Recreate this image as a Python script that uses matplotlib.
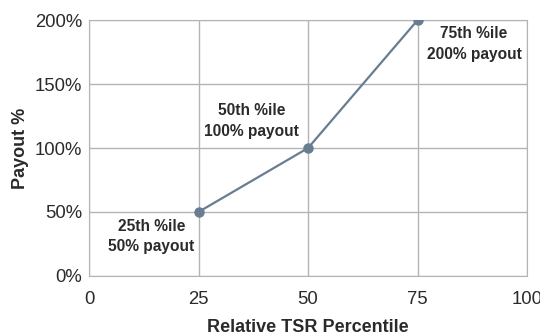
import matplotlib.pyplot as plt
from matplotlib.ticker import FuncFormatter

plt.rcParams['font.family'] = ['Liberation Sans', 'DejaVu Sans']

percentile = [25, 50, 75]
payout = [50, 100, 200]
labels = ["25th %ile\n50% payout", "50th %ile\n100% payout", "75th %ile\n200% payout"]
label_pos = [(14.2, 31), (37.1, 121), (87.9, 181.5)]

line_col = "#687d91"
grid_col = "#b4b4b4"
txt_col = "#2a2a2a"

fig = plt.figure(figsize=(5.4, 3.36), dpi=100)
ax = fig.add_axes([0.165, 0.179, 0.811, 0.761])
ax.plot(percentile, payout, color=line_col, lw=1.6, marker="o", ms=6.5, zorder=3)

for t, (x, y) in zip(labels, label_pos):
    ax.text(x, y, t, ha="center", va="center", fontsize=11.2, fontweight="bold",
            color=txt_col, linespacing=1.45)

ax.set_xlim(0, 100)
ax.set_ylim(0, 200)
ax.set_xticks([0, 25, 50, 75, 100])
ax.set_yticks([0, 50, 100, 150, 200])
ax.yaxis.set_major_formatter(FuncFormatter(lambda v, p: f"{int(v)}%"))
ax.grid(True, color=grid_col, lw=1)
ax.set_axisbelow(True)
for s in ax.spines.values():
    s.set_color(grid_col)
ax.tick_params(length=0, labelsize=13.3, colors=txt_col)
ax.tick_params(axis="x", pad=11)
ax.tick_params(axis="y", pad=5)
ax.set_xlabel("Relative TSR Percentile", fontsize=13, fontweight="bold", color=txt_col, labelpad=8)
ax.set_ylabel("Payout %", fontsize=13, fontweight="bold", color=txt_col, labelpad=4)

fig.savefig("out.png", dpi=100)
